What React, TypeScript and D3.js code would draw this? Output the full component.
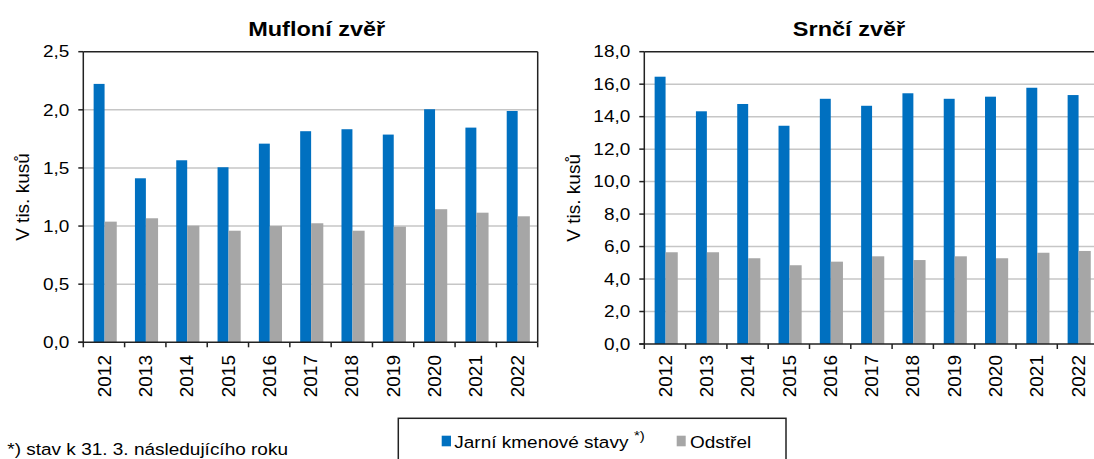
import * as d3 from 'd3';

const years = ['2012', '2013', '2014', '2015', '2016', '2017', '2018', '2019', '2020', '2021', '2022'];

// tisíce kusů
const mufJarni = [2.223, 1.411, 1.566, 1.506, 1.709, 1.816, 1.833, 1.787, 2.005, 1.847, 1.99];
const mufOdstrel = [1.038, 1.067, 1.003, 0.96, 1.0, 1.024, 0.96, 0.995, 1.145, 1.115, 1.084];
const srnJarni = [16.46, 14.33, 14.78, 13.44, 15.1, 14.67, 15.44, 15.1, 15.23, 15.78, 15.33];
const srnOdstrel = [5.65, 5.65, 5.28, 4.85, 5.07, 5.4, 5.17, 5.4, 5.28, 5.62, 5.73];

const mufTicks = [0, 0.5, 1, 1.5, 2, 2.5];
const srnTicks = [0, 2, 4, 6, 8, 10, 12, 14, 16, 18];

const seriesNames = ['Jarní kmenové stavy', 'Odstřel'];

const BLUE = '#0070C0';
const GRAY = '#A6A6A6';
const FONT = '"Liberation Sans", Arial, sans-serif';
const SY = 0.86; // horizontal text looks squashed vertically in the picture

const fmt = (v: number) => d3.format('.1f')(v).replace('.', ',');

function HText({x, y, size = 19, sy = SY, anchor = 'start', weight = 'normal', dy = '0', children}: any) {
    return (
        <text transform={`translate(${x},${y}) scale(1,${sy})`} textAnchor={anchor}
              fontSize={size} fontWeight={weight} fontFamily={FONT} dy={dy} fill="#000">
            {children}
        </text>
    );
}

function Panel({title, titleX, jarni, odstrel, ticks, left, right, top, bottom, axisTitleX, rightBorder}: any) {
    const x = d3.scaleBand().domain(years).range([left, right]);
    const y = d3.scaleLinear().domain([0, ticks[ticks.length - 1]]).range([bottom, top]);
    const bw = x.bandwidth();

    return (
        <g>
            <HText x={titleX} y={36} size={23.5} sy={0.88} anchor="middle" weight="bold">{title}</HText>

            {/* gridlines */}
            {ticks.slice(1, -1).map((t: number) => (
                <line key={t} x1={left} x2={right} y1={y(t)} y2={y(t)} stroke="#c6c6c6" strokeWidth={1.5}/>
            ))}

            {/* bars */}
            {years.map((yr, i) => (
                <g key={yr}>
                    <rect x={x(yr)! + 0.25 * bw} y={y(jarni[i])} width={0.265 * bw}
                          height={bottom - y(jarni[i])} fill={BLUE}/>
                    <rect x={x(yr)! + 0.515 * bw} y={y(odstrel[i])} width={0.295 * bw}
                          height={bottom - y(odstrel[i])} fill={GRAY}/>
                </g>
            ))}

            {/* frame */}
            <line x1={left} x2={right} y1={top} y2={top} stroke="#222" strokeWidth={1.5}/>
            {rightBorder && <line x1={right} x2={right} y1={top} y2={bottom} stroke="#222" strokeWidth={1.5}/>}
            <line x1={left} x2={left} y1={top} y2={bottom} stroke="#222" strokeWidth={1.5}/>
            <line x1={left - 5} x2={right} y1={bottom} y2={bottom} stroke="#222" strokeWidth={1.5}/>

            {/* y axis */}
            {ticks.map((t: number) => (
                <g key={t}>
                    <line x1={left - 5} x2={left} y1={y(t)} y2={y(t)} stroke="#222" strokeWidth={1.5}/>
                    <HText x={left - 14} y={y(t)} anchor="end" dy="0.35em">{fmt(t)}</HText>
                </g>
            ))}

            {/* x axis */}
            {[...years.map(yr => x(yr)!), right].map((px, i) => (
                <line key={i} x1={px} x2={px} y1={bottom} y2={bottom + 5} stroke="#222" strokeWidth={1.5}/>
            ))}
            {years.map(yr => (
                <text key={yr} transform={`translate(${x(yr)! + bw / 2},355) rotate(-90)`}
                      textAnchor="end" dy="0.35em" fontSize={19} fontFamily={FONT} fill="#000">{yr}</text>
            ))}

            <text transform={`translate(${axisTitleX},${(top + bottom) / 2 + 0}) rotate(-90)`}
                  textAnchor="middle" dy="0.35em" fontSize={19} fontFamily={FONT} fill="#000">V tis. kusů</text>
        </g>
    );
}

export default function App() {
    return (
        <svg width={1094} height={459} style={{position: 'absolute', left: 0, top: 0, background: '#fff'}}>
            <Panel title="Mufloní zvěř" titleX={316.7} jarni={mufJarni} odstrel={mufOdstrel} ticks={mufTicks}
                   left={83.3} right={537.7} top={51.7} bottom={342.3} axisTitleX={22} rightBorder/>
            <Panel title="Srnčí zvěř" titleX={849} jarni={srnJarni} odstrel={srnOdstrel} ticks={srnTicks}
                   left={644.3} right={644.3 + 11 * 41.3} top={51.7} bottom={344} axisTitleX={573}/>

            {/* legend */}
            <rect x={398.3} y={418.3} width={387.7} height={60} fill="none" stroke="#222" strokeWidth={1.5}/>
            <rect x={441.7} y={435.7} width={9.3} height={10.6} fill={BLUE}/>
            <HText x={454.3} y={447.5}>{seriesNames[0]}</HText>
            <HText x={634} y={440} size={15}>*)</HText>
            <rect x={676.7} y={435.7} width={9} height={10.6} fill={GRAY}/>
            <HText x={690} y={447.5}>{seriesNames[1]}</HText>

            <HText x={7.3} y={455}>*) stav k 31. 3. následujícího roku</HText>
        </svg>
    );
}
